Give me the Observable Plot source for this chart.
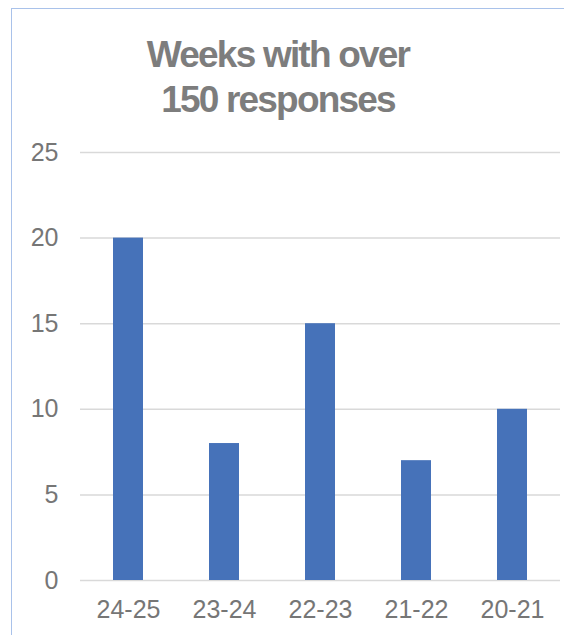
<!DOCTYPE html>
<html>
<head>
<meta charset="utf-8">
<script src="https://cdn.jsdelivr.net/npm/d3@7"></script>
<script src="https://cdn.jsdelivr.net/npm/@observablehq/plot@0.6"></script>
<style>
  html, body { margin: 0; padding: 0; background: #fff; }
  body { width: 564px; height: 635px; position: relative; overflow: hidden; font-family: "Liberation Sans", Arial, sans-serif; }
  #frame { position: absolute; left: 11px; top: 8px; right: 0; bottom: 0; border-left: 1px solid #a9c2ea; border-top: 1.5px solid #a9c2ea; }
  #title { position: absolute; left: 0; width: 556px; top: 32px; text-align: center; font-size: 37px; line-height: 45px; font-weight: bold; color: #7d7d7d; letter-spacing: -1.8px; }
  #chart { position: absolute; left: 0; top: 0; }
</style>
</head>
<body>
<div id="frame"></div>
<div id="title">Weeks with over<br>150 responses</div>
<div id="chart"></div>
<script>
const seasons = ["24-25", "23-24", "22-23", "21-22", "20-21"];
const weeks = [20, 8, 15, 7, 10];
const yTicks = [0, 5, 10, 15, 20, 25];

const data = seasons.map((s, i) => ({season: s, weeks: weeks[i]}));

const chart = Plot.plot({
  width: 564,
  height: 635,
  marginLeft: 80,
  marginRight: 4,
  marginTop: 152,
  marginBottom: 55,
  style: {background: "transparent", fontFamily: "'Liberation Sans', Arial, sans-serif", overflow: "visible"},
  x: {domain: seasons, paddingInner: 0.69, paddingOuter: 0.345, label: null},
  y: {domain: [0, 25], ticks: yTicks, label: null},
  marks: [
    Plot.ruleY(yTicks, {stroke: "#d9d9d9", strokeWidth: 1.5}),
    Plot.barY(data, {x: "season", y: "weeks", fill: "#4672b9"}),
    Plot.axisY({ticks: yTicks, tickSize: 0, tickPadding: 22, fontSize: 25, fill: "#767676", label: null, style: {letterSpacing: "2px"}}),
    Plot.axisX({tickSize: 0, tickPadding: 20, fontSize: 25, fill: "#767676", label: null, style: {letterSpacing: "1.8px"}})
  ]
});
document.getElementById("chart").appendChild(chart);
</script>
</body>
</html>
